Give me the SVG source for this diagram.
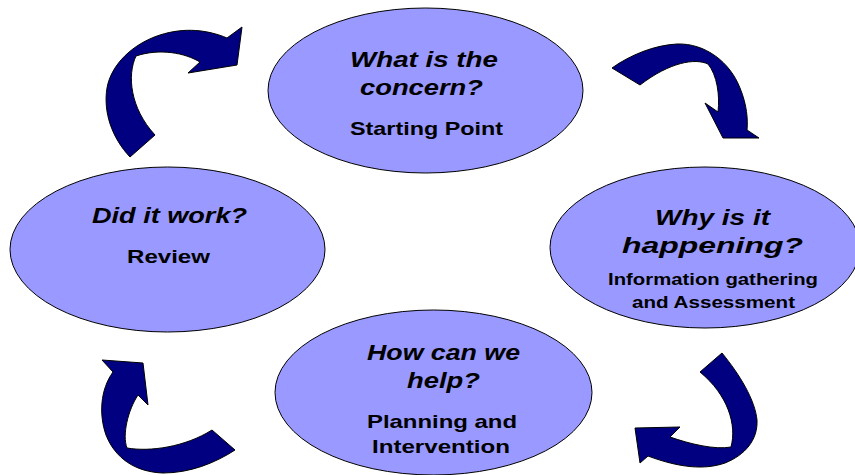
<svg xmlns="http://www.w3.org/2000/svg" width="855" height="475" viewBox="0 0 855 475">
<style>
.node ellipse{fill:#9999FF;stroke:#000;stroke-width:1}
.q{font-family:"Liberation Sans",Arial,sans-serif;font-weight:bold;font-style:italic;font-size:22px;fill:#000}
.s{font-family:"Liberation Sans",Arial,sans-serif;font-weight:bold;font-size:18.5px;fill:#000}
.s2{font-family:"Liberation Sans",Arial,sans-serif;font-weight:bold;font-size:17px;fill:#000}
.arrow{fill:#000080;stroke:#000;stroke-width:1;stroke-linejoin:miter}
</style>
<rect width="855" height="475" fill="#fff"/>
<g id="connectors">
<path class="arrow" d="M130,157 C112,138 103,112 107,88 C111,65 132,44 160,35 C185,27 208,30 227,38 L242,27 L237,65 L188,73 L200,62 C185,53 160,48 136,56 C127,75 130,108 155,135 Z"/>
<path class="arrow" d="M612,68 C630,55 655,45 677,44 C705,43 730,62 740,88 C747,105 748,120 747,130 L759,138 L723,138 L705,103 L718,112 C720,95 717,75 708,64 C695,58 670,62 640,85 Z"/>
<path class="arrow" d="M722,353 C740,375 755,400 757,420 C758,440 745,455 725,463 C705,470 680,468 648,456 L640,463 L635,428 L680,427 L670,437 C690,444 715,450 731,447 C737,425 728,395 700,372 Z"/>
<path class="arrow" d="M235,450 C215,463 190,473 163,473 C135,472 115,458 106,435 C99,415 100,390 113,372 L102,360 L143,363 L148,405 L138,395 C128,410 122,435 127,448 C150,452 185,447 212,430 Z"/>
</g>
<g id="node-concern" class="node">
<ellipse cx="425.5" cy="90.5" rx="157.5" ry="82.5"/>
<text class="q" x="350" y="67" textLength="148" lengthAdjust="spacingAndGlyphs">What is the</text>
<text class="q" x="360" y="95" textLength="123" lengthAdjust="spacingAndGlyphs">concern?</text>
<text class="s" x="350" y="135" textLength="153" lengthAdjust="spacingAndGlyphs">Starting Point</text>
</g>
<g id="node-why" class="node">
<ellipse cx="705" cy="247.5" rx="155" ry="80.5"/>
<text class="q" x="655" y="225" textLength="115" lengthAdjust="spacingAndGlyphs">Why is it</text>
<text class="q" x="622" y="253" textLength="181" lengthAdjust="spacingAndGlyphs">happening?</text>
<text class="s2" x="608" y="285" textLength="210" lengthAdjust="spacingAndGlyphs">Information gathering</text>
<text class="s2" x="632" y="308" textLength="163" lengthAdjust="spacingAndGlyphs">and Assessment</text>
</g>
<g id="node-review" class="node">
<ellipse cx="167.5" cy="249.5" rx="157.5" ry="82.5"/>
<text class="q" x="92" y="223" textLength="155" lengthAdjust="spacingAndGlyphs">Did it work?</text>
<text class="s" x="127" y="263" textLength="83" lengthAdjust="spacingAndGlyphs">Review</text>
</g>
<g id="node-help" class="node">
<ellipse cx="433.5" cy="392.5" rx="158.5" ry="82.5"/>
<text class="q" x="367" y="360" textLength="153" lengthAdjust="spacingAndGlyphs">How can we</text>
<text class="q" x="407" y="388" textLength="73" lengthAdjust="spacingAndGlyphs">help?</text>
<text class="s" x="367" y="428" textLength="150" lengthAdjust="spacingAndGlyphs">Planning and</text>
<text class="s" x="372" y="453" textLength="138" lengthAdjust="spacingAndGlyphs">Intervention</text>
</g>
</svg>
